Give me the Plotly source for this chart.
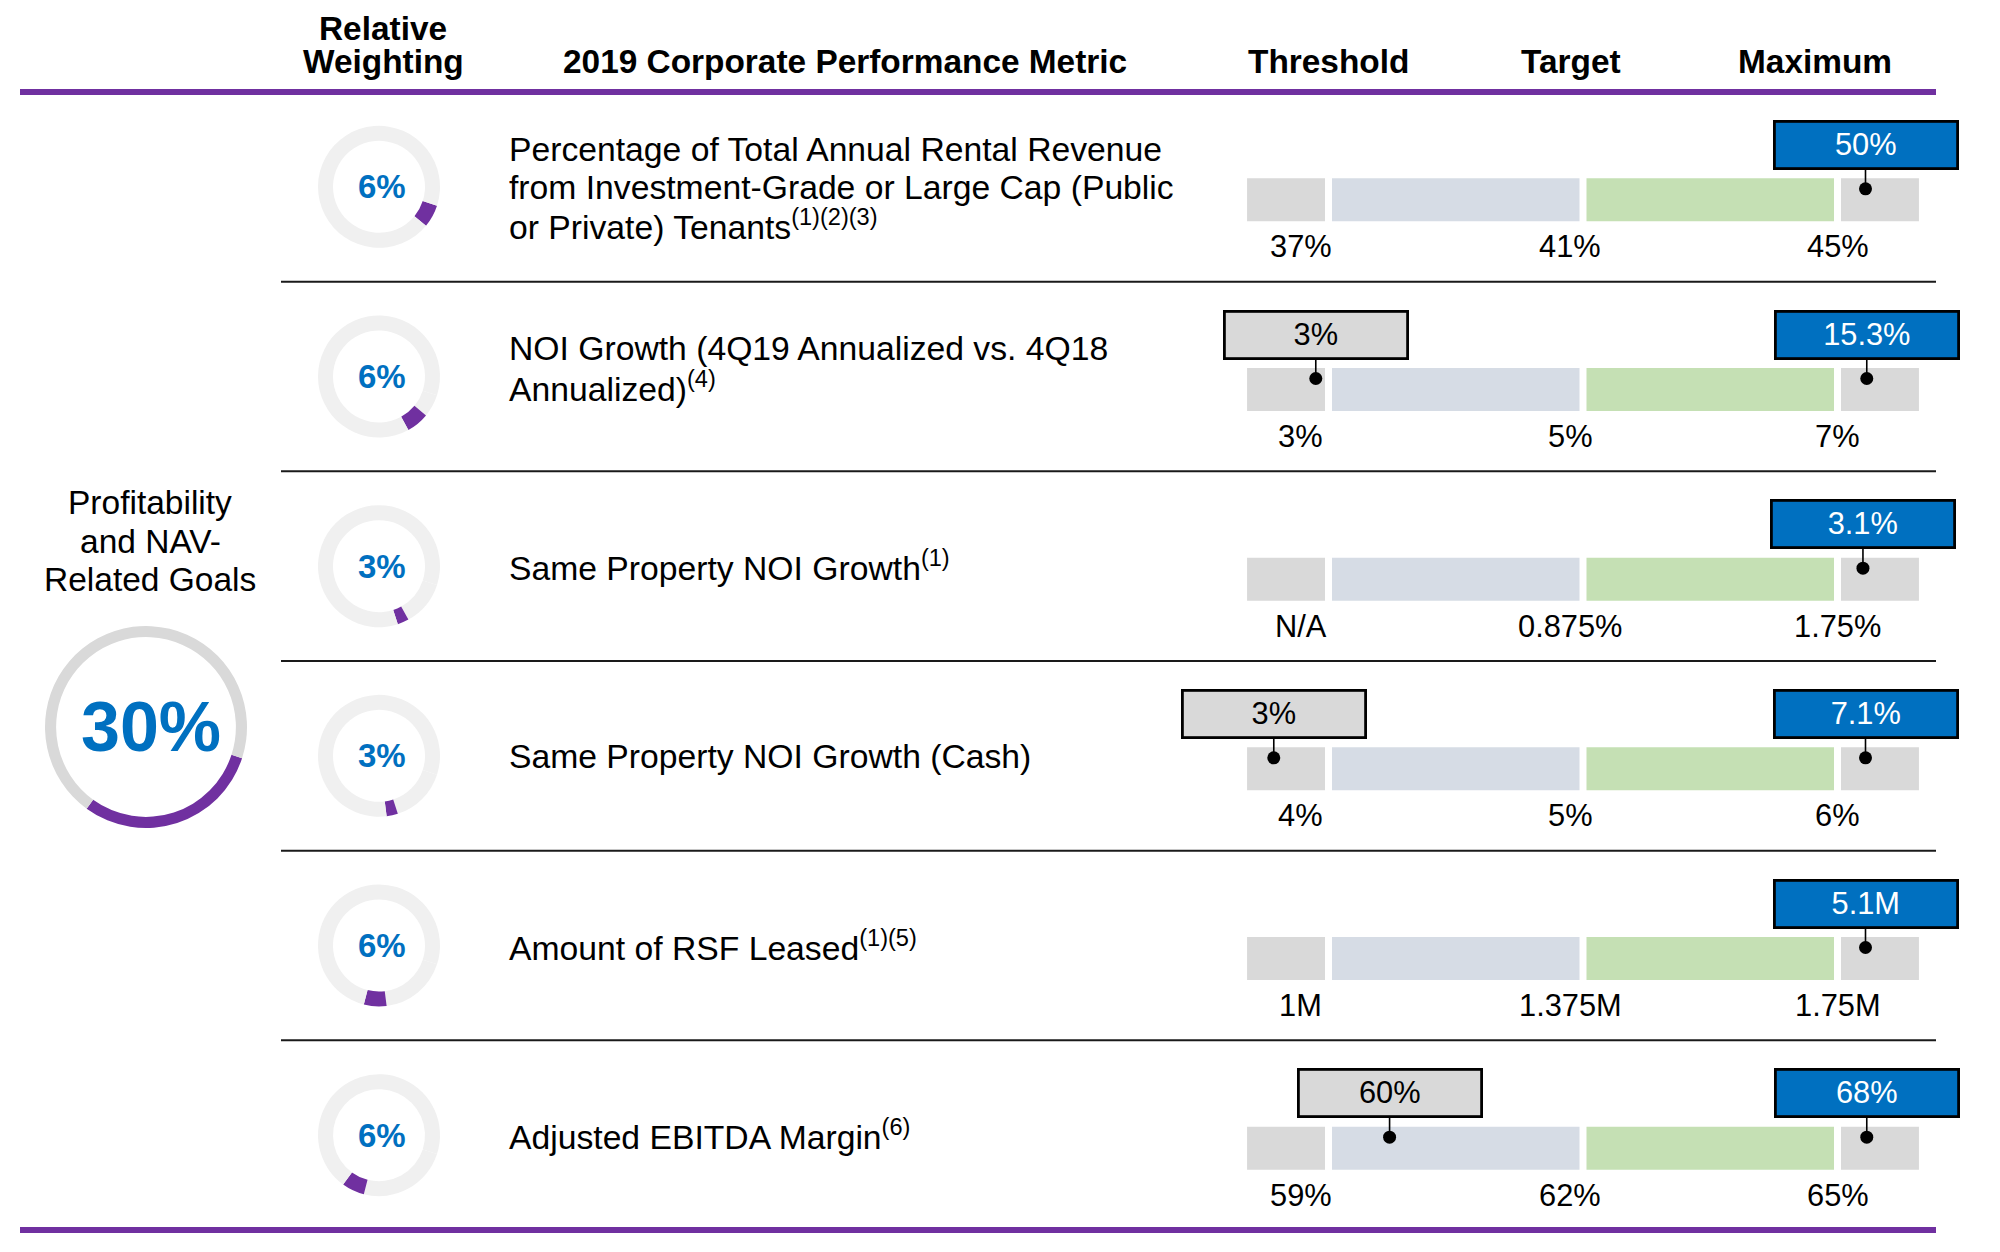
import plotly.graph_objects as go

# ------------------------------------------------------------------ data
group_weight = 30
group_label_lines = ["Profitability", "and NAV-", "Related Goals"]
weights = [6, 6, 3, 3, 6, 6]
metric_lines = [
    ["Percentage of Total Annual Rental Revenue",
     "from Investment-Grade or Large Cap (Public",
     "or Private) Tenants<sup>(1)(2)(3)</sup>"],
    ["NOI Growth (4Q19 Annualized vs. 4Q18",
     "Annualized)<sup>(4)</sup>"],
    ["Same Property NOI Growth<sup>(1)</sup>"],
    ["Same Property NOI Growth (Cash)"],
    ["Amount of RSF Leased<sup>(1)(5)</sup>"],
    ["Adjusted EBITDA Margin<sup>(6)</sup>"],
]
threshold_labels = ["37%", "3%", "N/A", "4%", "1M", "59%"]
target_labels = ["41%", "5%", "0.875%", "5%", "1.375M", "62%"]
maximum_labels = ["45%", "7%", "1.75%", "6%", "1.75M", "65%"]
# blue call-outs (result) and grey call-outs, with their position on the
# threshold(1) / target(2) / maximum(3) scale
result_labels = ["50%", "15.3%", "3.1%", "7.1%", "5.1M", "68%"]
result_level = [3.11, 3.115, 3.10, 3.11, 3.11, 3.115]
grey_labels = [None, "3%", None, "3%", None, "60%"]
grey_level = [None, 0.95, None, 0.785, None, 1.24]
zone_edges = [0.68, 1.0, 2.0, 3.0, 3.32]
header_texts = ["Relative<br>Weighting", "2019 Corporate Performance Metric",
                "Threshold", "Target", "Maximum"]

# ------------------------------------------------------------------ style / layout
OFF = 8                      # page body margin of the html page
W, H = 2000 - 2 * OFF, 1252 - 2 * OFF
FONT = "Liberation Sans, Arial, sans-serif"
PURPLE = "#7030a0"
BLUE = "#0070c0"
SMALL_TRACK = "#f0f0f0"
BIG_TRACK = "#d9d9d9"
ZONE_COLORS = ["#d9d9d9", "#d6dce5", "#c5e0b4", "#d9d9d9"]
ROT = 108
TOP = 92          # header rule (px from top of screenshot)
BOTTOM = 1230     # bottom rule
ROW_H = (BOTTOM - TOP) / 6
BAR_SHIFT = 13    # bar centre below row centre, px
UNIT = 254.5      # px per level step
LEVEL1_PX = 1328.5
GAP = 3.5 / UNIT
BAR_TH = 43 / ROW_H
DOT_OFF = 11 / ROW_H


def py(p):
    return 1 - (p - OFF) / H


def px(p):
    return (p - OFF) / W


def row_center(i):
    return TOP + ROW_H * (i + 0.5)


fig = go.Figure()

# ---- zone bars
for k in range(4):
    start = zone_edges[k] + (GAP if k > 0 else 0)
    end = zone_edges[k + 1] - (GAP if k < 3 else 0)
    fig.add_trace(go.Bar(
        orientation="h", y=list(range(6)), x=[end - start] * 6, base=[start] * 6,
        width=BAR_TH, marker=dict(color=ZONE_COLORS[k], line=dict(width=0)),
        hoverinfo="skip", showlegend=False))

# ---- dots
dot_x, dot_y = [], []
for i in range(6):
    dot_x.append(result_level[i]); dot_y.append(i - DOT_OFF)
    if grey_labels[i] is not None:
        dot_x.append(grey_level[i]); dot_y.append(i - DOT_OFF)
fig.add_trace(go.Scatter(x=dot_x, y=dot_y, mode="markers",
                         marker=dict(size=13, color="black"),
                         hoverinfo="skip", showlegend=False))

# ---- donuts
R_S = 61
cum = 0
for i, w in enumerate(weights):
    cy = row_center(i)
    cx = 379
    fig.add_trace(go.Pie(
        values=[cum, w, 100 - cum - w], sort=False, direction="clockwise",
        rotation=ROT, hole=0.754, textinfo="none", hoverinfo="skip",
        showlegend=False,
        marker=dict(colors=[SMALL_TRACK, PURPLE, SMALL_TRACK], line=dict(width=0)),
        domain=dict(x=[px(cx - R_S), px(cx + R_S)], y=[py(cy + R_S), py(cy - R_S)])))
    cum += w

R_B = 101
bcx, bcy = 146, 727
fig.add_trace(go.Pie(
    values=[group_weight, 100 - group_weight], sort=False, direction="clockwise",
    rotation=ROT, hole=0.89, textinfo="none", hoverinfo="skip", showlegend=False,
    marker=dict(colors=[PURPLE, BIG_TRACK], line=dict(width=0)),
    domain=dict(x=[px(bcx - R_B), px(bcx + R_B)], y=[py(bcy + R_B), py(bcy - R_B)])))

ann = []


def text(x, y, t, size, color="black", bold=False, xanchor="center", yanchor="middle"):
    ann.append(dict(x=px(x), y=py(y), xref="paper", yref="paper", text=t,
                    showarrow=False, xanchor=xanchor, yanchor=yanchor,
                    font=dict(family=FONT, size=size, color=color,
                              weight="bold" if bold else "normal")))


# headers
text(383, OFF, "Relative", 33.4, bold=True, yanchor="top")
text(383, 62, "Weighting", 33.4, bold=True)
for t, x in zip(header_texts[1:], [845, 1328, 1571, 1815]):
    text(x, 62, t, 33.4, bold=True)

# left group
for k, line in enumerate(group_label_lines):
    text(150, 503 + 38 * k, line, 33.5)
text(151, 727, f"{group_weight}%", 70, color=BLUE, bold=True)

# rows
text_dy = [0, -9, 0, 0, 0, 0]
for i in range(6):
    rc = row_center(i)
    text(382, rc, f"{weights[i]}%", 33, color=BLUE, bold=True)
    n = len(metric_lines[i])
    for k, line in enumerate(metric_lines[i]):
        text(507, rc + text_dy[i] + (k - (n - 1) / 2) * 38, line, 33.7, xanchor="left")
    for lab, lv in zip([threshold_labels[i], target_labels[i], maximum_labels[i]],
                       [0.89, 1.95, 3.0]):
        ann.append(dict(x=lv, y=i, xref="x", yref="y", text=lab, showarrow=False,
                        yshift=-47, xanchor="center", yanchor="middle",
                        font=dict(family=FONT, size=30.8, color="black")))
    callouts = [(result_labels[i], result_level[i], BLUE, "white")]
    if grey_labels[i] is not None:
        callouts.append((grey_labels[i], grey_level[i], "#d9d9d9", "black"))
    for lab, lv, bg, fc in callouts:
        ann.append(dict(x=lv, y=i - DOT_OFF, xref="x", yref="y", text=lab,
                        showarrow=True, arrowhead=0, arrowwidth=1.6,
                        arrowcolor="black", ax=0, ay=-44, standoff=0,
                        bgcolor=bg, bordercolor="black", borderwidth=2.8,
                        borderpad=1, width=178, height=42,
                        font=dict(family=FONT, size=30.8, color=fc)))

# rules
shapes = [
    dict(type="line", xref="paper", yref="paper", x0=px(20), x1=px(1936),
         y0=py(TOP), y1=py(TOP), line=dict(color=PURPLE, width=6)),
    dict(type="line", xref="paper", yref="paper", x0=px(20), x1=px(1936),
         y0=py(BOTTOM), y1=py(BOTTOM), line=dict(color=PURPLE, width=6)),
]
for i in range(1, 6):
    y = TOP + ROW_H * i
    shapes.append(dict(type="line", xref="paper", yref="paper", x0=px(281),
                       x1=px(1936), y0=py(y), y1=py(y),
                       line=dict(color="#1a1a1a", width=2)))

x0 = 1 - (LEVEL1_PX - OFF) / UNIT
y_top = -(TOP - OFF + ROW_H / 2 + BAR_SHIFT) / ROW_H
fig.update_layout(
    width=W, height=H, margin=dict(l=0, r=0, t=0, b=0),
    paper_bgcolor="white", plot_bgcolor="white", barmode="overlay",
    xaxis=dict(range=[x0, x0 + W / UNIT], domain=[0, 1], visible=False,
               fixedrange=True),
    yaxis=dict(range=[y_top + H / ROW_H, y_top], domain=[0, 1], visible=False,
               fixedrange=True),
    annotations=ann, shapes=shapes, font=dict(family=FONT),
)
fig.write_html("out.html")
